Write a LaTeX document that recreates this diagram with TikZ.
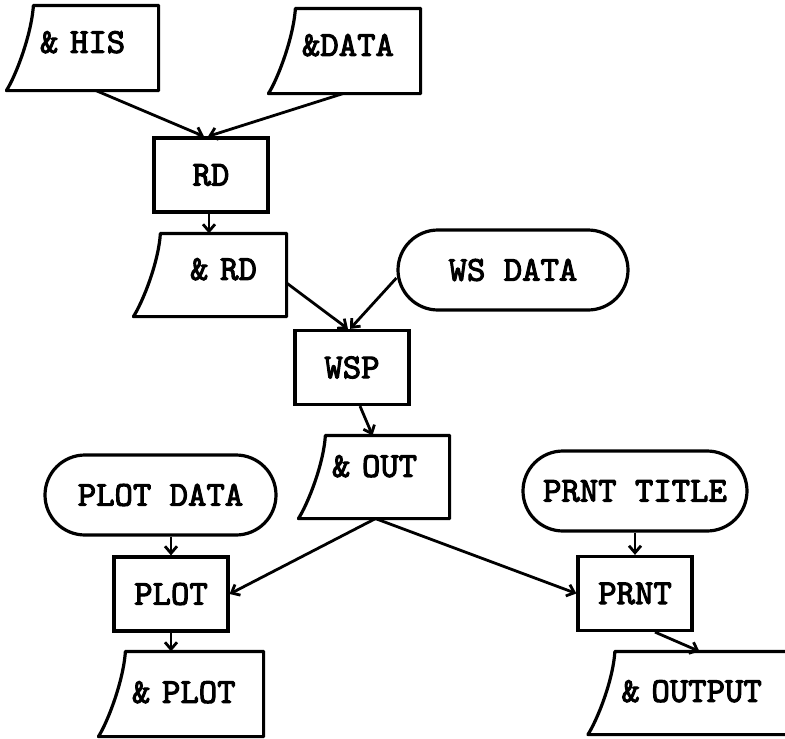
\documentclass[tikz,border=0pt]{standalone}
\usepackage{fontspec}
\newfontfamily\typer{lmmono10-regular.otf}[FakeBold=3]
\usepackage{tikz}
\usetikzlibrary{positioning,arrows.meta}
\usetikzlibrary{shapes.misc}
\tikzset{every picture/.style={line width=3.2pt}}
\tikzset{
  every node/.style={font=\typer\fontsize{35}{38}\selectfont},
  box/.style={draw, minimum width=114pt, minimum height=74pt, inner sep=0pt},
  term/.style={draw, rounded rectangle, minimum height=80pt, inner sep=0pt},
  card/.style={text width=#1, align=left, inner xsep=5pt, inner ysep=0pt,
    minimum height=80pt, text depth=12pt,
    append after command={\pgfextra{\draw[line join=round]
      (\tikzlastnode.north west) -- (\tikzlastnode.north east)
      -- (\tikzlastnode.south east) -- ([xshift=-27pt]\tikzlastnode.south west)
      .. controls +(9pt,14pt) and +(-2pt,-30pt) .. (\tikzlastnode.north west)
      -- cycle;}}},
  flow/.style={-{Straight Barb[length=7pt,width=12pt]}, line width=2.8pt},
}

\begin{document}
\begin{tikzpicture}[x=1pt,y=-1pt]
\useasboundingbox (0,0) rectangle (785,739);
\node[card=112pt, minimum height=82pt] (his) at (96,48) {\& HIS};
\node[card=112pt, minimum height=82pt] (data) at (358,51) {\&DATA};
\node[box] (rd) at (211,175) {RD};
\node[card=113pt, align=center] (rdout) at (223.5,275) {\& RD};
\node[term, minimum width=230pt] (wsdata) at (513,270) {WS DATA};
\node[box] (wsp) at (352,367.5) {WSP};
\node[card=111pt, text depth=22pt] (out) at (387.5,477) {\& OUT};
%
\node[term, minimum width=231pt] (plotdata) at (160.5,495) {PLOT DATA};
\node[box] (plot) at (171,594) {PLOT};
\node[card=125pt, minimum height=82pt, text depth=4pt] (plotout) at (194.5,694) {\& PLOT};
%
\node[term, minimum width=224pt] (prnttitle) at (635,491) {PRNT TITLE};
\node[box] (prnt) at (635,593.5) {PRNT};
\node[card=190pt, text depth=4pt] (output) at (716.5,693) {\& OUTPUT};
%
\draw[flow] (his.south) -- ([xshift=-7pt]rd.north);
\draw[flow] ([xshift=-15pt]data.south) -- ([xshift=-3pt]rd.north);
\draw[flow] ([xshift=-2pt]rd.south) -- ([xshift=-2pt]rd.south |- rdout.north);
\draw[flow] ([yshift=-8pt]rdout.east) -- ([xshift=-4pt]wsp.north);
\draw[flow] ([yshift=-8pt]wsdata.west) -- ([xshift=-2pt]wsp.north);
\draw[flow] ([xshift=8pt]wsp.south) -- ([xshift=-15pt]out.north);
\draw[flow] (plot.north |- plotdata.south) -- (plot.north);
\draw[flow] ([xshift=-12pt]out.south) -- (plot.east);
\draw[flow] ([xshift=-12pt]out.south) -- (prnt.west);
\draw[flow] (prnttitle.south) -- (prnt.north);
\draw[flow] ([xshift=20pt]prnt.south) -- ([xshift=-17pt]output.north);
\draw[flow] (plot.south) -- (plot.south |- plotout.north);
\end{tikzpicture}
\end{document}
